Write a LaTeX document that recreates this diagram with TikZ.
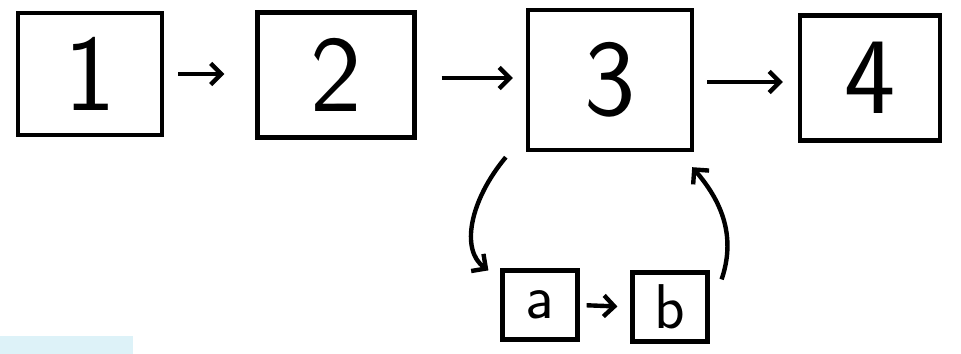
\documentclass[tikz,border=0pt]{standalone}
\usepackage{xcolor}
\usepackage{tikz}
\usetikzlibrary{calc,arrows.meta}
\definecolor{stripblue}{HTML}{DDF2F8}
\tikzset{
  bigbox/.style={draw,line width=2.5pt,inner sep=0pt,font=\sffamily\fontsize{62}{62}\selectfont},
  smallbox/.style={draw,line width=2.4pt,inner sep=0pt,minimum width=1.5cm,minimum height=1.38cm,
    font=\sffamily\fontsize{36}{36}\selectfont},
  arr/.style={line width=2.5pt,-{Straight Barb[length=6pt,width=12pt]}}
}
\begin{document}
\begin{tikzpicture}[x=0.02cm,y=-0.02cm]
  \useasboundingbox (0,0) rectangle (961,354);
  \fill[stripblue] (0,336) rectangle (133,354);
  % main row
  \node[bigbox,minimum width=2.88cm,minimum height=2.44cm] (n1) at (90,74) {1};
  \node[bigbox,minimum width=3.14cm,minimum height=2.5cm] (n2) at (336,75) {2};
  \node[bigbox,minimum width=3.28cm,minimum height=2.8cm] (n3) at (610,80) {3};
  \node[bigbox,minimum width=2.8cm,minimum height=2.5cm] (n4) at (870,78) {4};
  \draw[arr,shorten <=0.28cm,shorten >=0.62cm] (n1.east) -- (n2.west |- n1.east);
  \draw[arr,shorten <=0.5cm,shorten >=0.26cm] (n2.east |- 0,78) -- (n3.west |- 0,78);
  \draw[arr,shorten <=0.26cm,shorten >=0.3cm] (n3.east |- 0,82) -- (n4.west |- 0,82);
  % side loop
  \node[smallbox] (na) at (540,305) {a};
  \node[smallbox] (nb) at (670,307) {b};
  \draw[arr,shorten <=0.14cm,shorten >=0.26cm] (na.east) -- (nb.west);
  \draw[arr] ($(n3.south west)+(-20,5)$) .. controls (470,200) and (460,250) .. ($(na.north west)+(-12,2)$);
  \draw[arr] ($(nb.north east)+(12,9)$) .. controls (735,240) and (725,205) .. ($(n3.south east)+(-2,15)$);
\end{tikzpicture}
\end{document}
